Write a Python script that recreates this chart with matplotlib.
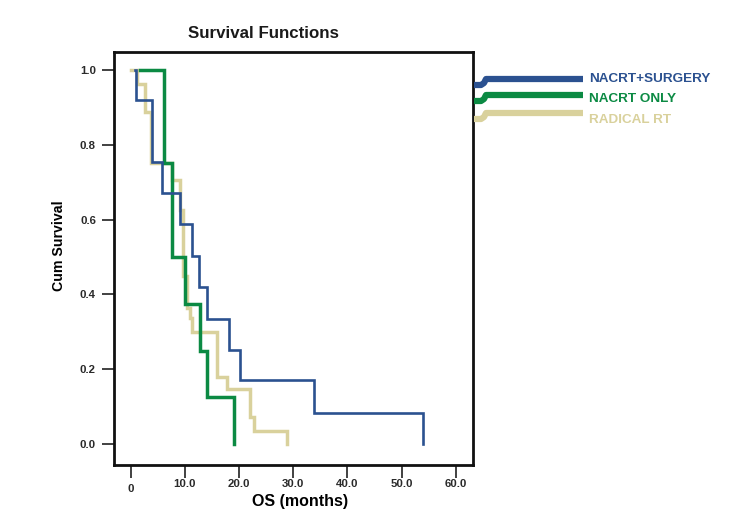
import matplotlib
matplotlib.use('Agg')
import matplotlib.pyplot as plt
from matplotlib.lines import Line2D

plt.rcParams['font.family'] = ['Liberation Sans', 'DejaVu Sans']

# Kaplan-Meier steps (time in months, survival after each event)
surg_start = 0.7
surg_times = [1.0, 3.9, 5.8, 9.1, 11.3, 12.6, 14.1, 18.1, 20.1, 33.9, 54.0]
surg_surv = [0.92, 0.755, 0.67, 0.588, 0.504, 0.419, 0.334, 0.252, 0.172, 0.084, 0.0]

only_start = 1.7
only_times = [6.2, 7.7, 10.1, 12.8, 14.0, 19.0]
only_surv = [0.75, 0.5, 0.375, 0.25, 0.125, 0.0]

rt_start = 0.0
rt_times = [1.2, 2.7, 3.7, 7.7, 9.0, 9.7, 10.4, 10.9, 11.35, 15.9, 17.7, 22.0, 22.8, 28.9]
rt_surv = [0.963, 0.888, 0.75, 0.705, 0.625, 0.45, 0.365, 0.337, 0.30, 0.178, 0.146, 0.071, 0.036, 0.0]

labels = ['NACRT+SURGERY', 'NACRT ONLY', 'RADICAL RT']
colors = ['#2b5190', '#0b8a43', '#d9d19c']
xticks = [0, 10, 20, 30, 40, 50, 60]
xticklabels = ['0', '10.0', '20.0', '30.0', '40.0', '50.0', '60.0']
yticks = [0.0, 0.2, 0.4, 0.6, 0.8, 1.0]

fig = plt.figure(figsize=(7.5, 5.3), dpi=100)
ax = fig.add_axes([114 / 750, 1 - 465 / 530, 359 / 750, 413 / 530])

curves = [(surg_start, surg_times, surg_surv), (only_start, only_times, only_surv),
          (rt_start, rt_times, rt_surv)]
widths = [1.9, 2.5, 2.5]
zorders = [4, 3, 2]
for (t0, ts, ss), c, lw, z in zip(curves, colors, widths, zorders):
    ax.step([t0] + ts, [1.0] + ss, where='post', color=c, lw=lw, zorder=z,
            solid_joinstyle='miter')

ax.set_xlim(-3.1, 63.2)
ax.set_ylim(-0.056, 1.048)
ax.set_xticks(xticks)
ax.set_xticklabels(xticklabels)
ax.set_yticks(yticks)
ax.set_yticklabels(['%.1f' % v for v in yticks])
ax.tick_params(direction='out', length=9, width=1.3, color='#333333',
               labelsize=8.2, labelcolor='#2a2a2a')
ax.tick_params(axis='x', pad=1)
ax.tick_params(axis='y', pad=4)
ax.xaxis.get_major_ticks()[0].set_pad(4.5)
for lab in ax.get_xticklabels() + ax.get_yticklabels():
    lab.set_fontweight('bold')
for sp in ax.spines.values():
    sp.set_linewidth(2)
    sp.set_color('#111111')

ax.set_xlabel('OS (months)', fontsize=11.5, fontweight='bold', va='top')
ax.xaxis.set_label_coords(0.518, -0.07)
ax.set_ylabel('Cum Survival', fontsize=10.2, fontweight='bold')
ax.yaxis.set_label_coords(-0.134, 0.532)

fig.text(263 / 750, 1 - 33 / 530, 'Survival Functions', ha='center', va='center',
         fontsize=12.2, fontweight='bold', color='#1a1a1a')

# legend drawn to the right of the plot box, step-shaped keys
line_y = [79, 95, 113]
text_y = [78.5, 99.5, 120]
for lab, c, ly, ty in zip(labels, colors, line_y, text_y):
    xs = [474, 481, 484, 486, 583]
    ys = [ly + 6, ly + 6, ly + 4, ly, ly]
    fig.add_artist(Line2D([x / 750 for x in xs], [1 - y / 530 for y in ys],
                          transform=fig.transFigure, color=c, lw=4.5,
                          solid_capstyle='butt', solid_joinstyle='round'))
    fig.text(589 / 750, 1 - ty / 530, lab, ha='left', va='center',
             fontsize=9.7, fontweight='bold', color=c)

fig.savefig('out.png', dpi=100, facecolor='white')
